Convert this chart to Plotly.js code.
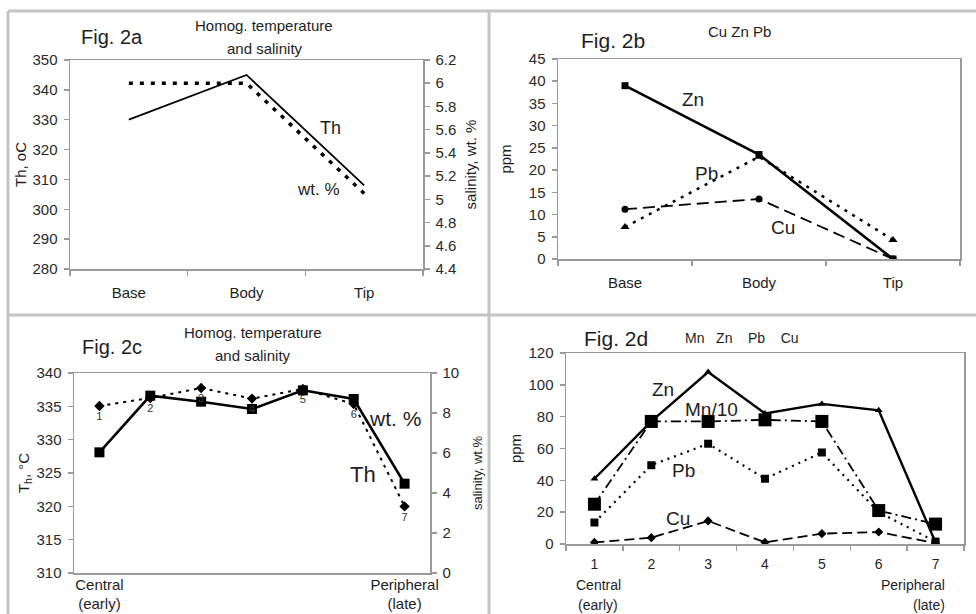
<!DOCTYPE html>
<html><head><meta charset="utf-8">
<script src="https://cdn.plot.ly/plotly-3.0.1.min.js"></script>
<style>html,body{margin:0;padding:0;background:#fff}</style>
</head><body><div id="chart" style="width:976px;height:614px"></div>
<script>
// ---- data ----
const zones = ['Base', 'Body', 'Tip'];
const thA = [330, 345, 308];
const salA = [6.0, 6.0, 5.05];
const cuB = [11.2, 13.5, 0];
const znB = [39, 23.5, 0];
const pbB = [7.2, 23, 4.3];
const stages = ['1', '2', '3', '4', '5', '6', '7'];
const thC = [328.1, 336.6, 335.7, 334.6, 337.4, 336.1, 323.4];
const salC = [8.35, 8.75, 9.25, 8.72, 9.2, 8.45, 3.33];
const mnD = [25, 77, 77, 78, 77, 21, 12.5];
const znD = [41, 77, 108, 82, 88, 84, 1];
const pbD = [13.5, 49.5, 63, 41, 57.5, 20, 1.5];
const cuD = [1, 4, 14.5, 1, 6.5, 7.5, 0.5];
const stageTickVals = ['1', '7'];
const stageTickText = ['Central<br>(early)', 'Peripheral<br>(late)'];

// ---- helpers ----
const W = 976, H = 614;
const px = x => x / W, py = y => 1 - y / H;
const xdom = (l, r) => [l / W, r / W];
const ydom = (t, b) => [1 - b / H, 1 - t / H];
const FONT = '"Liberation Sans", Arial, sans-serif';
const AX = '#9a9a9a';
const TXT = '#2a2a2a';
function axis(o) {
  return Object.assign({
    showline: true, linecolor: AX, linewidth: 1.5,
    ticks: 'outside', ticklen: 5, tickcolor: AX, tickwidth: 1.5,
    showgrid: false, zeroline: false, fixedrange: true,
    tickfont: {family: FONT, size: 15, color: TXT}
  }, o);
}
function ann(text, x, y, size, extra) {
  return Object.assign({
    text: text, xref: 'paper', yref: 'paper', x: px(x), y: py(y),
    xanchor: 'center', yanchor: 'middle', showarrow: false,
    font: {family: FONT, size: size, color: '#1e1e1e'}
  }, extra || {});
}
const K = '#000';

const traces = [
  // Fig 2a
  {x: zones, y: thA, xaxis: 'x', yaxis: 'y', mode: 'lines', name: 'Th',
   line: {color: K, width: 1.8}},
  {x: zones, y: salA, xaxis: 'x', yaxis: 'y2', mode: 'lines', name: 'wt. %',
   line: {color: K, width: 3.5, dash: '4px,7px'}},
  // Fig 2b
  {x: zones, y: cuB, xaxis: 'x2', yaxis: 'y3', mode: 'lines+markers', name: 'Cu',
   line: {color: K, width: 1.8, dash: '12px,6px'}, marker: {symbol: 'circle', size: 7, color: K}},
  {x: zones, y: pbB, xaxis: 'x2', yaxis: 'y3', mode: 'lines+markers', name: 'Pb',
   line: {color: K, width: 2.5, dash: '3px,6px'}, marker: {symbol: 'triangle-up', size: 8, color: K}},
  {x: zones, y: znB, xaxis: 'x2', yaxis: 'y3', mode: 'lines+markers', name: 'Zn',
   line: {color: K, width: 2.6}, marker: {symbol: 'square', size: 7, color: K}},
  // Fig 2c
  {x: stages, y: thC, xaxis: 'x3', yaxis: 'y4', mode: 'lines+markers', name: 'Th',
   line: {color: K, width: 2.6}, marker: {symbol: 'square', size: 10, color: K}},
  {x: stages, y: salC, xaxis: 'x3', yaxis: 'y5', mode: 'lines+markers+text', name: 'wt. %',
   text: stages, textposition: 'bottom center', textfont: {family: FONT, size: 11, color: '#333'},
   line: {color: K, width: 2, dash: '3px,5px'}, marker: {symbol: 'diamond', size: 8, color: K}},
  // Fig 2d
  {x: stages, y: cuD, xaxis: 'x4', yaxis: 'y6', mode: 'lines+markers', name: 'Cu',
   line: {color: K, width: 1.8, dash: '10px,5px'}, marker: {symbol: 'diamond', size: 7, color: K}},
  {x: stages, y: pbD, xaxis: 'x4', yaxis: 'y6', mode: 'lines+markers', name: 'Pb',
   line: {color: K, width: 2.2, dash: '2px,5px'}, marker: {symbol: 'square', size: 8, color: K}},
  {x: stages, y: mnD, xaxis: 'x4', yaxis: 'y6', mode: 'lines+markers', name: 'Mn/10',
   line: {color: K, width: 1.8, dash: '10px,4px,2px,4px'}, marker: {symbol: 'square', size: 13, color: K}},
  {x: stages, y: znD, xaxis: 'x4', yaxis: 'y6', mode: 'lines+markers', name: 'Zn',
   line: {color: K, width: 2.4}, marker: {symbol: 'triangle-up', size: 7, color: K}}
];

const xcat = {family: FONT, size: 15, color: '#1e1e1e'};
const titleFont = {family: FONT, size: 15, color: '#1e1e1e'};

const layout = {
  width: W, height: H, autosize: false,
  margin: {l: 0, r: 0, t: 0, b: 0},
  paper_bgcolor: '#fff', plot_bgcolor: '#fff',
  showlegend: false,
  font: {family: FONT},
  // 2a
  xaxis: axis({domain: xdom(70, 423), anchor: 'y', type: 'category', range: [-0.5, 2.5],
    tickson: 'boundaries', mirror: true, tickfont: xcat, ticklabelstandoff: 9}),
  yaxis: axis({domain: ydom(60, 269), anchor: 'x', range: [280, 350], dtick: 10,
    ticklabelstandoff: 3, title: {text: 'Th, oC', font: titleFont, standoff: 2}}),
  yaxis2: axis({overlaying: 'y', side: 'right', anchor: 'x', range: [4.4, 6.2], dtick: 0.2,
    ticklabelstandoff: 3, title: {text: 'salinity, wt. %', font: titleFont, standoff: 10}}),
  // 2b
  xaxis2: axis({domain: xdom(558, 960), anchor: 'y3', type: 'category', range: [-0.5, 2.5],
    tickson: 'boundaries', mirror: true, tickfont: xcat, ticklabelstandoff: 9}),
  yaxis3: axis({domain: ydom(59, 259), anchor: 'x2', range: [0, 45], dtick: 5, mirror: true,
    ticklabelstandoff: 3, title: {text: 'ppm', font: titleFont, standoff: 13}}),
  // 2c
  xaxis3: axis({domain: xdom(74, 430), anchor: 'y4', type: 'category', range: [-0.5, 6.5],
    tickmode: 'array', tickvals: stageTickVals, ticktext: stageTickText, ticks: '', mirror: true,
    tickfont: xcat, ticklabelstandoff: -3}),
  yaxis4: axis({domain: ydom(373, 573), anchor: 'x3', range: [310, 340], dtick: 5,
    ticklabelstandoff: 3, title: {text: 'T<sub>h</sub>, °C', font: titleFont, standoff: 3}}),
  yaxis5: axis({overlaying: 'y4', side: 'right', anchor: 'x3', range: [0, 10], dtick: 2,
    ticklabelstandoff: 3, title: {text: 'salinity, wt.%', font: {family: FONT, size: 13, color: '#1e1e1e'}, standoff: 14}}),
  // 2d
  xaxis4: axis({domain: xdom(566, 964), anchor: 'y6', type: 'category', range: [-0.5, 6.5],
    tickson: 'boundaries', mirror: true, tickfont: {family: FONT, size: 14, color: '#1e1e1e'}, ticklabelstandoff: 7}),
  yaxis6: axis({domain: ydom(353, 544), anchor: 'x4', range: [0, 120], dtick: 20, mirror: true,
    ticklabelstandoff: 3, title: {text: 'ppm', font: titleFont, standoff: 3}}),
  shapes: [
    {type: 'line', xref: 'paper', yref: 'paper', x0: px(8), x1: px(976), y0: py(11), y1: py(11), line: {color: '#c4c4c4', width: 3}},
    {type: 'line', xref: 'paper', yref: 'paper', x0: px(8), x1: px(8), y0: py(11), y1: py(614), line: {color: '#c4c4c4', width: 3}},
    {type: 'line', xref: 'paper', yref: 'paper', x0: px(489), x1: px(489), y0: py(11), y1: py(614), line: {color: '#c4c4c4', width: 3}},
    {type: 'line', xref: 'paper', yref: 'paper', x0: px(8), x1: px(976), y0: py(315), y1: py(315), line: {color: '#c4c4c4', width: 3}}
  ],
  annotations: [
    // 2a
    ann('Fig. 2a', 112, 37, 20),
    ann('Homog. temperature', 264, 25, 15),
    ann('and salinity', 265, 48, 15),
    ann('Th', 330, 128, 18),
    ann('wt. %', 318, 189, 17),
    // 2b
    ann('Fig. 2b', 613, 40, 21),
    ann('Cu Zn Pb', 739, 31, 15),
    ann('Zn', 693, 100, 19),
    ann('Pb', 706, 173, 19),
    ann('Cu', 783, 228, 19),
    // 2c
    ann('Fig. 2c', 112, 347, 20),
    ann('Homog. temperature', 253, 332, 15),
    ann('and salinity', 253, 355, 15),
    ann('wt. %', 395, 418, 21),
    ann('Th', 363, 474, 22),
    // 2d
    ann('Fig. 2d', 616, 338, 21),
    ann('Mn\u00a0\u00a0\u00a0Zn\u00a0\u00a0\u00a0\u00a0Pb\u00a0\u00a0\u00a0\u00a0Cu', 742, 338, 14),
    ann('Zn', 663, 390, 19),
    ann('Mn/10', 711, 409, 19),
    ann('Pb', 683, 470, 19),
    ann('Cu', 678, 518, 19),
    ann('Central', 598, 585, 14, {borderpad: 0}),
    ann('(early)', 598, 605, 14, {borderpad: 0}),
    ann('Peripheral', 913, 585, 14, {borderpad: 0}),
    ann('(late)', 929, 605, 14, {borderpad: 0})
  ]
};

Plotly.newPlot('chart', traces, layout, {displayModeBar: false, staticPlot: true});
</script>
</body></html>
